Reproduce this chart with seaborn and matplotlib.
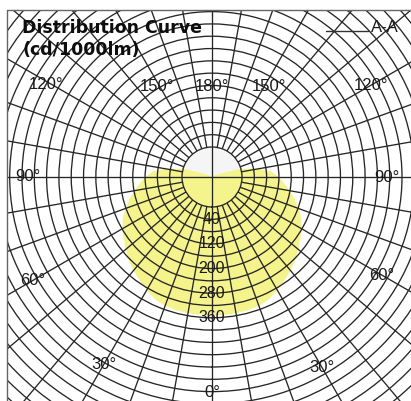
import numpy as np
import matplotlib
matplotlib.use("Agg")
import matplotlib.pyplot as plt
import seaborn as sns
from matplotlib.patches import Rectangle
from matplotlib.lines import Line2D

# ---------------- data ----------------
gamma_deg = [0, 5, 10, 15, 20, 25, 30, 35, 40, 45, 50, 55, 60, 65, 70, 75, 80, 85,
             90, 95, 100, 105, 110, 115, 120, 125, 130, 135, 140, 145, 150, 155,
             160, 165, 170, 175, 180]
intensity = [351, 351, 351, 350, 348, 342, 331, 320, 310, 298, 286, 273, 262, 249,
             233, 216, 199, 183, 168, 150, 117, 76, 23, 0, 0, 0, 0, 0, 0, 0, 0, 0,
             0, 0, 0, 0, 0]
ring_label_values = [40, 120, 200, 280, 360]
ring_label_texts = ["40", "120", "200", "280", "360"]
angle_label_texts = ["0°", "30°", "30°", "60°", "60°", "90°", "90°",
                     "120°", "120°", "150°", "150°", "180°"]
title_lines = ["Distribution Curve", "(cd/1000lm)"]
legend_text = "A-A"

# ---------------- layout ----------------
W, H = 411, 401
CX, CY, RPX = 212, 177, 330          # polar centre and radius in pixels
RORIGIN, RMAX = -97.5, 975           # radial axis origin / max (grid units)
RING_STEP = 40
CURVE_TO_GRID = 1.277                # curve drawn from centre, grid has a hole
angle_label_pos = [(0, 604), (30, 617), (-30, 608), (60, 540), (-60, 575),
                   (90, 471), (-90, 500), (120, 500), (-119, 520),
                   (148, 250), (-149, 247), (180, 198)]

YELLOW = "#f4f38c"
GRID = "#262626"
LW = 0.95

sns.set_theme(style="white")
plt.rcParams["font.family"] = ["Liberation Sans", "DejaVu Sans"]

fig = plt.figure(figsize=(W / 100, H / 100), dpi=100)
fig.patch.set_facecolor("white")
ax = fig.add_axes([(CX - RPX) / W, (H - CY - RPX) / H, 2 * RPX / W, 2 * RPX / H],
                  projection="polar")
ax.set_theta_zero_location("S")
ax.set_theta_direction(1)
ax.set_axisbelow(False)

# mirrored curve (symmetric section A-A)
g = np.array(gamma_deg, dtype=float)
v = np.array(intensity, dtype=float)
theta = np.deg2rad(np.concatenate([g, 360 - g[::-1][1:]]))
vals = np.concatenate([v, v[::-1][1:]])
r_curve = RORIGIN + vals * CURVE_TO_GRID

# central hole
tt = np.linspace(0, 2 * np.pi, 361)
ax.fill_between(tt, RORIGIN, 0, color="#f5f5f5", lw=0, clip_on=False, zorder=0.6)

ax.fill(theta, r_curve, color=YELLOW, lw=0, clip_on=False, zorder=0.8)
sns.lineplot(x=theta, y=r_curve, ax=ax, sort=False, estimator=None,
             color=YELLOW, lw=0.6, zorder=0.9)
for ln in ax.lines:
    ln.set_clip_on(False)

# axes through the hole
for t in (0, 90, 180, 270):
    ax.plot([np.deg2rad(t)] * 2, [RORIGIN, 0], color=GRID, lw=LW,
            clip_on=False, zorder=2.6)

ax.set_xticks(np.deg2rad(np.arange(0, 360, 10)))
ax.set_xticklabels([])
ax.set_yticks(np.arange(RING_STEP, RMAX + 1, RING_STEP))
ax.set_yticklabels([])
ax.tick_params(length=0)
ax.grid(True, color=GRID, linewidth=LW)
ax.spines["inner"].set_color(GRID)
ax.spines["inner"].set_linewidth(LW)
ax.spines["polar"].set_visible(False)
ax.set_xlabel("")
ax.set_ylabel("")
ax.set_ylim(0, RMAX)
ax.set_rorigin(RORIGIN)

for s, rv in zip(ring_label_texts, ring_label_values):
    ax.text(0, rv, s, ha="center", va="center", fontsize=11.5, color="#1a1a1a",
            zorder=4)
for s, (a, rr) in zip(angle_label_texts, angle_label_pos):
    ax.text(np.deg2rad(a), rr, s, ha="center", va="center", fontsize=12,
            color="#1a1a1a", zorder=4, clip_on=False)

# frame masking (chart drawn inside a box)
fig.add_artist(Rectangle((0, (H - 10) / H), 1, 10 / H, transform=fig.transFigure,
                         fc="white", ec="none", zorder=5))
fig.add_artist(Rectangle((0, 0), 7 / W, 1, transform=fig.transFigure,
                         fc="white", ec="none", zorder=5))
fig.add_artist(Line2D([7 / W, 1], [(H - 10) / H] * 2, transform=fig.transFigure,
                      color="#666666", lw=1.0, zorder=6))
fig.add_artist(Line2D([7 / W] * 2, [0, (H - 10) / H], transform=fig.transFigure,
                      color="#666666", lw=1.0, zorder=6))

# title
for i, line in enumerate(title_lines):
    fig.text(22 / W, 1 - (33 + 22 * i) / H, line, fontsize=12.5, fontweight="heavy",
             family="DejaVu Sans", va="baseline", ha="left", color="#0d0d0d",
             zorder=7)

# legend
fig.add_artist(Line2D([326 / W, 368 / W], [1 - 31 / H] * 2, transform=fig.transFigure,
                      color="#333333", lw=1.0, zorder=7))
fig.text(371 / W, 1 - 27 / H, legend_text, fontsize=12, va="center", ha="left",
         color="#1a1a1a", zorder=7)

fig.savefig("out.png", dpi=100)
